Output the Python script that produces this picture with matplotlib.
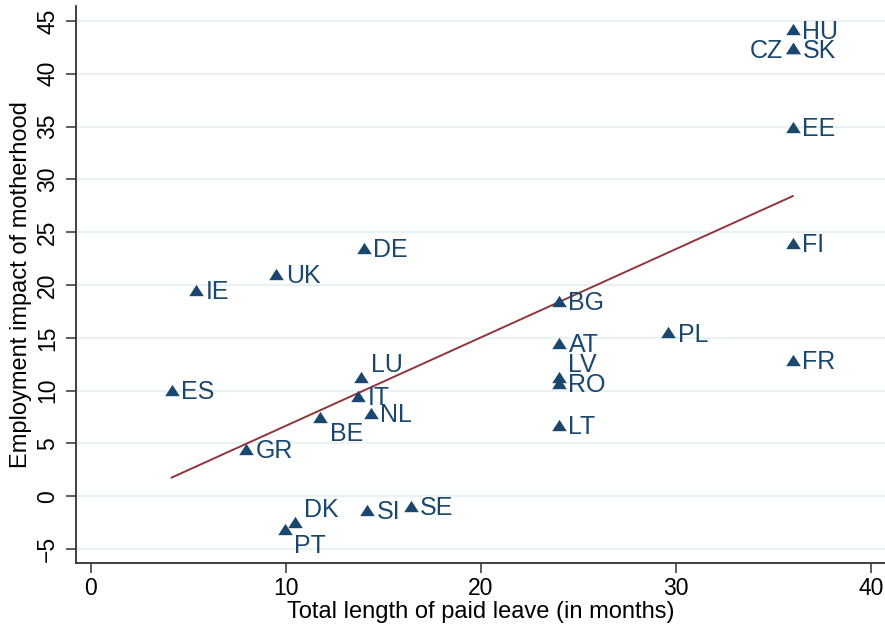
import numpy as np
import matplotlib
matplotlib.use("Agg")
import matplotlib.pyplot as plt
from matplotlib.path import Path

plt.rcParams['font.family'] = ['Liberation Sans', 'DejaVu Sans']

# data
pays = ["HU", "SK", "CZ", "EE", "FI", "FR", "PL", "BG", "AT", "LV", "RO", "LT",
        "DE", "UK", "IE", "ES", "LU", "IT", "NL", "BE", "GR", "DK", "PT", "SI", "SE"]
conge = [36, 36, 36, 36, 36, 36, 29.6, 24, 24, 24, 24, 24,
         14, 9.5, 5.4, 4.15, 13.85, 13.7, 14.35, 11.75, 7.95, 10.45, 9.95, 14.15, 16.4]
impact = [44.2, 42.4, 42.4, 35.0, 24.0, 12.9, 15.5, 18.5, 14.5, 11.3, 10.7, 6.7,
          23.5, 21.0, 19.5, 10.1, 11.3, 9.5, 7.9, 7.5, 4.45, -2.4, -3.1, -1.35, -0.95]
# label position (stata clock style)
position = [3, 3, 9, 3, 3, 3, 3, 3, 3, 2, 3, 3,
            3, 3, 3, 3, 2, 3, 3, 4, 3, 2, 4, 3, 3]

xticks = [0, 10, 20, 30, 40]
yticks = [-5, 0, 5, 10, 15, 20, 25, 30, 35, 40, 45]

bleu = "#1a476f"
rouge = "#90353b"

decalages = {3: (7, -1.5, "left", "center"),
             9: (-7, -1.5, "right", "center"),
             2: (7, 8.5, "left", "center"),
             4: (7, -12, "left", "center")}

triangle = Path([(-1, -0.78), (1, -0.78), (0, 0.78), (-1, -0.78)],
                [Path.MOVETO, Path.LINETO, Path.LINETO, Path.CLOSEPOLY])

fig = plt.figure(figsize=(8.85, 6.25), dpi=100)
ax = fig.add_axes([0.0859, 0.0992, 0.9141, 0.8912])

ax.set_xlim(-0.754, 40.73)
ax.set_ylim(-6.33, 46.42)

ax.scatter(conge, impact, marker=triangle, s=10.5**2, color=bleu, linewidths=0, zorder=3)

for p, x, y, pos in zip(pays, conge, impact, position):
    dx, dy, ha, va = decalages[pos]
    ax.annotate(p, (x, y), xytext=(dx, dy), textcoords="offset points",
                ha=ha, va=va, color=bleu, fontsize=18, zorder=4)

# droite de regression
a, b = np.polyfit(conge, impact, 1)
xs = np.array([min(conge), max(conge)])
ax.plot(xs, a * xs + b, color=rouge, lw=1.4, zorder=2)

ax.set_xticks(xticks)
ax.set_yticks(yticks)
ax.set_yticklabels([str(t) if t >= 0 else "\u2212" + str(-t) for t in yticks],
                   rotation=90, va="center")
ax.grid(axis="y", color="#eaf2f3", lw=1.6, zorder=0)
ax.set_axisbelow(True)

for s in ["top", "right"]:
    ax.spines[s].set_visible(False)
for s in ["left", "bottom"]:
    ax.spines[s].set_color("#333333")
    ax.spines[s].set_linewidth(1.3)

ax.tick_params(axis="both", length=7, width=1.1, color="#333333",
               labelsize=16.5, labelcolor="black")
ax.tick_params(axis="y", pad=5)
ax.tick_params(axis="x", pad=3)

ax.set_xlabel("Total length of paid leave (in months)", fontsize=17, labelpad=1)
ax.set_ylabel("Employment impact of motherhood", fontsize=17, labelpad=3)

fig.savefig("out.png", dpi=100)
